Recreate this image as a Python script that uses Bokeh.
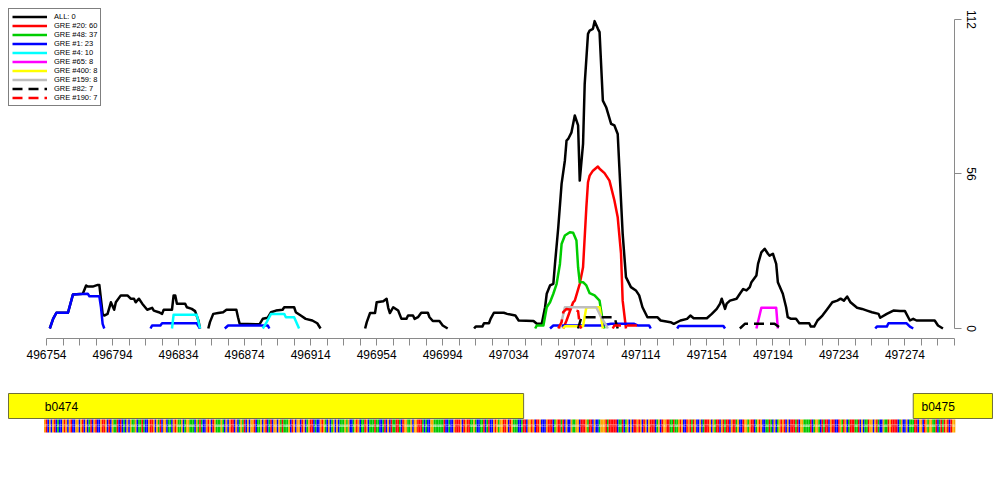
import math
from bokeh.plotting import figure
from bokeh.layouts import column
from bokeh.models import Range1d, FixedTicker, Legend, LegendItem, ColumnDataSource
from bokeh.embed import file_html
from bokeh.resources import INLINE
from bokeh.core.properties import value

N = None  # gap between separate stretches of a curve

# ---------------- data ----------------
all_pos = [496756, 496758, 496760, 496767, 496770, 496776, 496778, 496779, 496782, 496785, 496786, 496788, 496789,
           496791, 496793, 496795, 496796, 496799, 496803, 496805, 496807, 496808, 496810, 496812, 496815, 496818,
           496819, 496822, 496824, 496825, 496830, 496831, 496832, 496833, 496838, 496839, 496842, 496844, 496846,
           496847, N,
           496852, 496853, 496855, 496858, 496861, 496863, 496869, 496870, 496871, 496883, 496885, 496888, 496890,
           496893, 496897, 496898, 496904, 496905, 496908, 496911, 496915, 496918, 496920, N,
           496947, 496948, 496950, 496953, 496954, 496958, 496960, 496961, 496962, 496964, 496967, 496969, 496972,
           496973, 496976, 496977, 496979, 496981, 496985, 496986, 496988, 496992, 496994, 496997, N,
           497013, 497014, 497018, 497019, 497022, 497023, 497025, 497031, 497033, 497038, 497040, 497049, 497051,
           497054, 497056, 497057, 497059, 497061, 497062, 497064, 497066, 497068, 497069, 497070, 497072, 497074,
           497076, 497077, 497079, 497080, 497082, 497083, 497085, 497086, 497088, 497089, 497091, 497093, 497096,
           497098, 497100, 497101, 497103, 497105, 497108, 497111, 497113, 497115, 497118, 497124, 497126, 497132,
           497134, 497138, 497142, 497144, 497146, 497154, 497157, 497160, 497162, 497163, 497165, 497166, 497168,
           497172, 497174, 497176, 497178, 497180, 497181, 497184, 497185, 497187, 497189, 497191, 497192, 497194,
           497196, 497197, 497200, 497202, 497203, 497205, 497208, 497210, 497216, 497217, 497219, 497221, 497224,
           497227, 497230, 497233, 497235, 497237, 497239, 497241, 497245, 497248, 497251, 497254, 497258, 497259,
           497263, 497267, 497271, 497274, 497277, 497279, 497281, 497292, 497294, 497297]
all_val = [0, 3.5, 5.7, 5.7, 12.3, 12.6, 15.6, 15.2, 15.2, 15.8, 15.8, 5.3, 4.7,
           5.3, 9.5, 6.8, 9.5, 12, 12, 10.8, 10.8, 9.5, 10.8, 9, 6.8, 7.5,
           6.5, 5.9, 5.3, 6.8, 6.8, 12, 12, 9, 9, 7.7, 7.1, 6.3, 2.9,
           0, N,
           0, 2.3, 5.3, 5.6, 5.9, 6.8, 6.8, 4.1, 1.7, 1.5, 3.5, 3.9, 5.9,
           6.5, 6.8, 7.7, 7.7, 5.9, 4.7, 3.5, 2.9, 1.9, 0, N,
           0, 2.3, 5.6, 5.6, 9.5, 9.9, 10.8, 7.5, 5.6, 7.7, 6.5, 3.5, 3.5,
           4.7, 4.7, 3.5, 4.1, 5.7, 5.7, 4.1, 2.7, 2.7, 1.1, 0, N,
           0, 0.7, 0.7, 1.9, 1.9, 3.5, 5.7, 5.7, 5.3, 4.7, 2.9, 2.7, 1.7,
           1.7, 7.7, 12.6, 15.6, 16.2, 23.4, 36.7, 52.4, 60.9, 68.1, 68.7, 71.1, 77.2,
           73.6, 53.6, 66.9, 88.6, 106.8, 108, 108.6, 111.4, 108.6, 107.4, 82.6, 80.2, 74.2,
           73.6, 70.5, 58.4, 34.3, 18.6, 15, 13.8, 12, 7.7, 4.1, 4.1, 2.9, 2.3,
           1.7, 2.9, 3.5, 4.7, 3.7, 3.7, 5.3, 7.1, 9, 10.8, 7.1, 9, 10.1,
           10.8, 12.6, 14.3, 13.8, 15, 16.8, 19.2, 23.4, 27.6, 28.9, 27.1, 26.4, 27.1,
           23.4, 16.8, 12.6, 7.7, 4.1, 3.5, 3.5, 1.9, 1.9, 0.7, 0.7, 2.9, 4.7,
           7.1, 9.5, 10.1, 10.8, 10.1, 11.6, 9.5, 7.5, 7.1, 6.5, 5.9, 5.3, 3.9,
           5.3, 6.5, 6.3, 6.3, 2.9, 3.5, 2.9, 2.9, 1.1, 0]

gre20_pos = [497067, 497069, 497073, 497074, 497077, 497079, 497081, 497082, 497083, 497085, 497088, 497089,
             497092, 497095, 497098, 497100, 497102, 497103, 497105]
gre20_val = [0, 2.9, 9.5, 10.1, 16.2, 22.2, 43.9, 53, 55.4, 57.2, 58.7, 57.9,
             56.3, 53.6, 46.4, 40.3, 27.1, 10.1, 0]

gre48_pos = [497050, 497051, 497055, 497057, 497059, 497061, 497063, 497065, 497066, 497068, 497071, 497073,
             497075, 497076, 497077, 497079, 497081, 497083, 497086, 497089, 497091, 497092]
gre48_val = [0, 1.1, 1.1, 7.7, 9.5, 12.6, 16.2, 23.4, 30.6, 33.7, 34.9, 34.7,
             31.9, 22.2, 16.8, 16.8, 15.6, 12.8, 12, 10.1, 2.3, 0]

gre1_pos = [496756, 496758, 496760, 496767, 496770, 496779, 496780, 496786, 496787, 496788, 496789, N,
            496817, 496818, 496823, 496824, 496845, 496847, N,
            496862, 496864, 496888, 496889, N,
            497059, 497061, 497090, 497096, 497110, 497112, 497119, 497120, N,
            497136, 497137, 497164, 497165, N,
            497256, 497257, 497263, 497264, 497275, 497277, 497279]
gre1_val = [0, 3.5, 5.7, 5.7, 12.3, 12.6, 11.7, 11.7, 7.7, 1.7, 0, N,
            0, 1.1, 1.1, 1.9, 1.9, 0, N,
            0, 1.1, 1.1, 0, N,
            0, 1.1, 1.1, 1.7, 1.7, 1.1, 1.1, 0, N,
            0, 0.9, 0.9, 0, N,
            0, 0.7, 0.7, 1.9, 1.9, 0.7, 0]

gre4_pos = [496830, 496831, 496845, 496847, N,
            496885, 496887, 496890, 496898, 496899, 496904, 496907]
gre4_val = [0, 5, 5, 0, N,
            0, 1.9, 5.3, 5.3, 4.1, 4.1, 0]

gre65_pos = [497184, 497187, 497196, 497197]
gre65_val = [0, 7.5, 7.5, 0]

gre400_pos = [497067, 497068, 497079, 497081, 497089, 497091]
gre400_val = [0, 0.8, 0.8, 7.7, 7.7, 0]

gre159_pos = [497065, 497068, 497087, 497090, 497093, 497094]
gre159_val = [0, 7.7, 7.7, 4.1, 1.1, 0]

gre82_pos = [497076, 497078, 497098, 497100, N,
             497174, 497177, 497195, 497199]
gre82_val = [0, 4.1, 4.1, 0, N,
             0, 1.7, 1.7, 0]

gre190_pos = [497064, 497066, 497067, 497069, 497076, 497077, 497078, N,
              497097, 497098, 497112, 497113]
gre190_val = [0, 2.3, 5.9, 7.1, 6.3, 1.1, 0, N,
              0, 1.1, 1.1, 0]

series_labels = ["ALL: 0", "GRE #20: 60", "GRE #48: 37", "GRE #1: 23", "GRE #4: 10",
                 "GRE #65: 8", "GRE #400: 8", "GRE #159: 8", "GRE #82: 7", "GRE #190: 7"]

x_tick_start, x_tick_end, x_tick_step, x_label_every = 496754, 497304, 10, 4
y_ticks = [0, 56, 112]

gene_names = ["b0474", "b0475"]
gene_starts = [496399, 497279]   # b0474 start lies off-screen (clipped); value is approximate
gene_ends = [497043, 498241]     # b0475 end lies off-screen (clipped); value is approximate
gene_label_pos = [496753, 497284]

# NOTE: the reference strip shows one coloured cell per base (about 1.6 px each),
# too small to read base by base. This string is an APPROXIMATION: only its
# overall length and rough colour mix follow the picture. The individual bases
# are NOT the real genome sequence. Swap in the real sequence for
# 496753..497304 if you have it.
seq_start = 496753
sequence = (
    "GTCGCGTCACCGTGCGTCCGGCGTCGCATCGTCCGTTGCTCGAATCTCACGCGAAGCAAT"
    "ACCGTTGCGATCGGCAACGTGAAGCAGGAAACGATACCGTGCTGAAAGACGCGTTCGCAG"
    "ATCGCGGTCAAGCGTCATCGGCGATAAAGCTGCGGCTGCAGTTCACCGTGACGCAGCGCA"
    "AAGAGCCAGTGCAATGCAAATAACCATCGCTAATTACTGGAAGCGGTTTACACCGGAAAA"
    "AATCCACCGTTTGCTGTTAAGACCAATCATCCGTGAGGTTGCTGAAACCATTCGGTGCTT"
    "GCCCGTTTCAGTTATCGCCGAAGGCTTTGATTCGCCAGGGTATTTTTCAATCAGCGCTTG"
    "TGCTGCGTTTCAGCTGGTTAATAAGTGCCTGTATGCCGCATTTGCGATTCGTATTCGTTA"
    "GCCTGGAGTTCAGTGCCAATACGCAGTGTCGCTTTATCGGAAAATCAGGACTATTCGTTC"
    "CTGATGCATTTAATCGCAATGGCGTACCGAATGTTTTCAGCCGCAAATTCGGCTGAGGAATCATATGTCTGG"
)
base_colors = {"A": "#00C800", "C": "#0000FF", "G": "#FFA500", "T": "#FF0000"}

# ---------------- helpers ----------------
def nanify(v):
    return [float("nan") if a is None else a for a in v]

FONT = "Liberation Sans"
AXIS_GRAY = "#8a8a8a"
PX_PER_BP = 908.0 / 550.0
VIEW_LEFT = 496730.98          # genomic position at page x = 8
VIEW_RIGHT_TRACK = 497327.0    # genomic position at page x = 992

# ---------------- main plot ----------------
p = figure(width=1000, height=375,
           x_range=Range1d(VIEW_LEFT, 497304), y_range=Range1d(-3.624, 115.98),
           output_backend="svg", toolbar_location=None,
           x_axis_location="below", y_axis_location="right",
           min_border_left=8, min_border_right=46, min_border_top=8, min_border_bottom=37)
p.frame_align = False
p.outline_line_color = None
p.grid.visible = False
p.background_fill_color = "white"
p.border_fill_color = "white"

series = [
    (all_pos, all_val, "black", "solid"),
    (gre20_pos, gre20_val, "#FF0000", "solid"),
    (gre48_pos, gre48_val, "#00CD00", "solid"),
    (gre1_pos, gre1_val, "#0000FF", "solid"),
    (gre4_pos, gre4_val, "#00FFFF", "solid"),
    (gre65_pos, gre65_val, "#FF00FF", "solid"),
    (gre400_pos, gre400_val, "#FFFF00", "solid"),
    (gre159_pos, gre159_val, "#BEBEBE", "solid"),
    (gre82_pos, gre82_val, "black", "10 6"),
    (gre190_pos, gre190_val, "#FF0000", "10 6"),
]
items = []
for (xs, ys, col, dash), lab in zip(series, series_labels):
    src = ColumnDataSource(dict(x=nanify(xs), y=nanify(ys)))
    r = p.line("x", "y", source=src, line_color=col, line_width=2.5, line_dash=dash,
               line_join="round")
    items.append(LegendItem(label=lab, renderers=[r]))

legend = Legend(items=items, location="top_left", margin=0, padding=3, spacing=0,
                glyph_height=9, label_height=9, glyph_width=35, label_standoff=7,
                label_text_font_size="7.5px", label_text_font=FONT, label_text_color="black",
                border_line_color="black", border_line_width=1,
                background_fill_color="white", background_fill_alpha=1.0)
p.add_layout(legend)

x_ticks = list(range(x_tick_start, x_tick_end + 1, x_tick_step))
xa = p.xaxis[0]
xa.ticker = FixedTicker(ticks=x_ticks)
xa.major_label_overrides = {t: (str(t) if (t - x_tick_start) % (x_tick_step * x_label_every) == 0 else "")
                            for t in x_ticks}
xa.bounds = (x_tick_start, x_tick_end)
xa.axis_line_color = AXIS_GRAY
xa.major_tick_line_color = AXIS_GRAY
xa.minor_tick_line_color = None
xa.major_tick_in = 0
xa.major_tick_out = 7
xa.major_label_standoff = 4
xa.major_label_text_font = FONT
xa.major_label_text_font_size = "12px"
xa.major_label_text_color = "black"

ya = p.yaxis[0]
ya.ticker = FixedTicker(ticks=y_ticks)
ya.major_label_overrides = {t: str(t) for t in y_ticks}
ya.bounds = (y_ticks[0], y_ticks[-1])
ya.axis_line_color = AXIS_GRAY
ya.major_tick_line_color = AXIS_GRAY
ya.minor_tick_line_color = None
ya.major_tick_in = 0
ya.major_tick_out = 7
ya.major_label_standoff = 5
ya.major_label_orientation = "vertical"
ya.major_label_text_font = FONT
ya.major_label_text_font_size = "12px"
ya.major_label_text_color = "black"

# ---------------- gene / sequence track ----------------
track_left = VIEW_LEFT - 8 / PX_PER_BP
track_right = track_left + 1000 / PX_PER_BP
t = figure(width=1000, height=125,
           x_range=Range1d(track_left, track_right), y_range=Range1d(125, 0),
           output_backend="svg", toolbar_location=None,
           x_axis_location=None, y_axis_location=None,
           min_border_left=0, min_border_right=0, min_border_top=0, min_border_bottom=0)
t.frame_align = False
t.outline_line_color = None
t.grid.visible = False
t.background_fill_color = "white"
t.border_fill_color = "white"

# genes are clipped to the visible window (as the original's plot region does)
draw_left = [max(s, VIEW_LEFT) for s in gene_starts]
draw_right = [min(e, VIEW_RIGHT_TRACK) for e in gene_ends]
gsrc = ColumnDataSource(dict(left=draw_left, right=draw_right, name=gene_names, lx=gene_label_pos))
t.quad(left="left", right="right", top=18, bottom=43, source=gsrc,
       fill_color="#FFFF00", line_color="#6f6f3a", line_width=1)
t.text(x="lx", y=31, text="name", source=gsrc, text_font=value(FONT), text_font_size="12px",
       text_color="black", text_baseline="middle", text_align="left")

seq_pos = [seq_start + i for i in range(len(sequence))]
ssrc = ColumnDataSource(dict(l=[s - 0.5 for s in seq_pos], r=[s + 0.5 for s in seq_pos], x=seq_pos,
                             c=[base_colors[b] for b in sequence], b=list(sequence)))
t.quad(left="l", right="r", top=44, bottom=57, source=ssrc, fill_color="c", line_color=None)
t.text(x="x", y=50.5, text="b", source=ssrc, text_font=value(FONT), text_font_size="3px",
       text_color="white", text_alpha=0.8, text_align="center", text_baseline="middle")

layout = column(p, t, spacing=0)
open("out.html", "w").write(file_html(layout, INLINE))
